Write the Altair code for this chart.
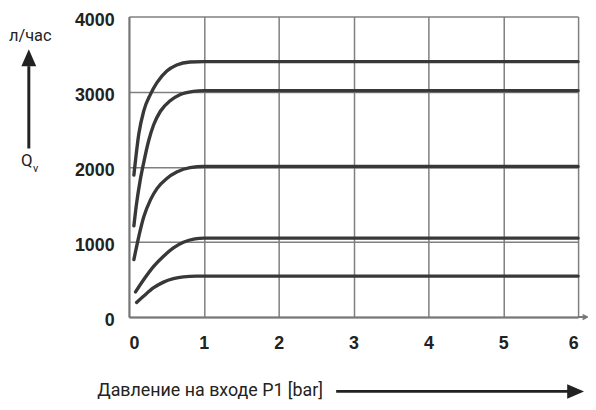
import altair as alt
import pandas as pd

# Data
p1 = [0.066, 0.132, 0.198, 0.287, 0.374, 0.506, 0.638, 0.815, 1.0, 6.0]
q1 = [1890, 2440, 2745, 2965, 3120, 3275, 3355, 3395, 3400, 3400]
p2 = [0.066, 0.1, 0.15, 0.2, 0.264, 0.33, 0.42, 0.55, 0.68, 0.86, 1.0, 6.0]
q2 = [1215, 1500, 1820, 2070, 2350, 2560, 2740, 2880, 2960, 3005, 3015, 3015]
p3 = [0.066, 0.132, 0.198, 0.287, 0.374, 0.506, 0.638, 0.815, 1.0, 6.0]
q3 = [765, 1075, 1335, 1560, 1710, 1845, 1930, 1990, 2005, 2005]
p4 = [0.088, 0.198, 0.33, 0.462, 0.594, 0.727, 0.881, 1.0, 6.0]
q4 = [335, 500, 675, 810, 920, 995, 1040, 1050, 1050]
p5 = [0.102, 0.198, 0.33, 0.462, 0.594, 0.727, 0.9, 1.0, 6.0]
q5 = [195, 280, 390, 465, 510, 535, 545, 545, 545]

x_ticks = [0, 1, 2, 3, 4, 5, 6]
y_ticks = [0, 1000, 2000, 3000, 4000]

rows = []
for name, ps, qs in [("c1", p1, q1), ("c2", p2, q2), ("c3", p3, q3), ("c4", p4, q4), ("c5", p5, q5)]:
    for p, q in zip(ps, qs):
        rows.append({"curve": name, "P": p, "Q": q})
df = pd.DataFrame(rows)

W, H = 453, 303
LAB_FONT = "Liberation Sans"
TXT_FONT = "Roboto"

x_enc = alt.X("P:Q", scale=alt.Scale(domain=[0, 6], nice=False),
              axis=alt.Axis(values=x_ticks, format="d", title=None, ticks=False,
                            labelFont=LAB_FONT, labelFontWeight="bold", labelFontSize=18,
                            labelColor="#222", labelPadding=27, labelBaseline="middle",
                            grid=True, gridColor="#7f7f7f", gridWidth=1.5,
                            domainColor="#777", domainWidth=2))
y_enc = alt.Y("Q:Q", scale=alt.Scale(domain=[0, 4000], nice=False),
              axis=alt.Axis(values=y_ticks, format="d", title=None, ticks=False,
                            labelFont=LAB_FONT, labelFontWeight="bold", labelFontSize=18,
                            labelColor="#222", labelPadding=15, labelOffset=4,
                            grid=True, gridColor="#7f7f7f", gridWidth=1.5,
                            domainColor="#777", domainWidth=2))

lines = alt.Chart(df).mark_line(color="#383838", strokeWidth=3.4, strokeCap="round",
                                interpolate="monotone").encode(
    x=x_enc, y=y_enc, detail="curve:N")

base = alt.Chart(pd.DataFrame({"a": [0]}))

def txt(s, x, y, size, align="center", weight="normal", font=TXT_FONT):
    return base.mark_text(text=s, fontSize=size, font=font, fontWeight=weight,
                          align=align, baseline="middle", color="#222").encode(
        x=alt.value(x), y=alt.value(y))

def rule(x1, x2, y1, y2, width, color="#222"):
    return base.mark_rule(color=color, strokeWidth=width).encode(
        x=alt.value(x1), x2=alt.value(x2), y=alt.value(y1), y2=alt.value(y2))

def head(x, y, shape, size, filled=True, color="#222", sw=1):
    return base.mark_point(shape=shape, size=size, filled=filled, color=color,
                           opacity=1, strokeWidth=sw).encode(
        x=alt.value(x), y=alt.value(y))

deco = [
    txt("л/час", -121, 20, 16.5, align="left"),
    txt("Q", -103, 146, 17),
    txt("v", -94, 154, 11),
    rule(-101, -101, 50, 133, 3),
    head(-101, 41.5, "M0,-1L0.88,1L-0.88,1Z", 289),
    txt("Давление на входе P1 [bar]", -32, 378, 18, align="left"),
    rule(209, 444, 378, 378, 3),
    head(450.5, 378, "M1,0L-1,-0.86L-1,0.86Z", 289),
    rule(453, 462, 303, 303, 2, color="#777"),
    head(460, 303, "M-1,-1L1,0L-1,1", 25, filled=False, color="#777", sw=1.5),
]

chart = alt.layer(lines, *deco).properties(
    width=W, height=H,
    autosize=alt.AutoSizeParams(type="none"),
    padding={"left": 122, "top": 7, "right": 10, "bottom": 82},
).configure_view(stroke=None)

chart.save("out.html", embed_options={"renderer": "svg", "actions": False})
